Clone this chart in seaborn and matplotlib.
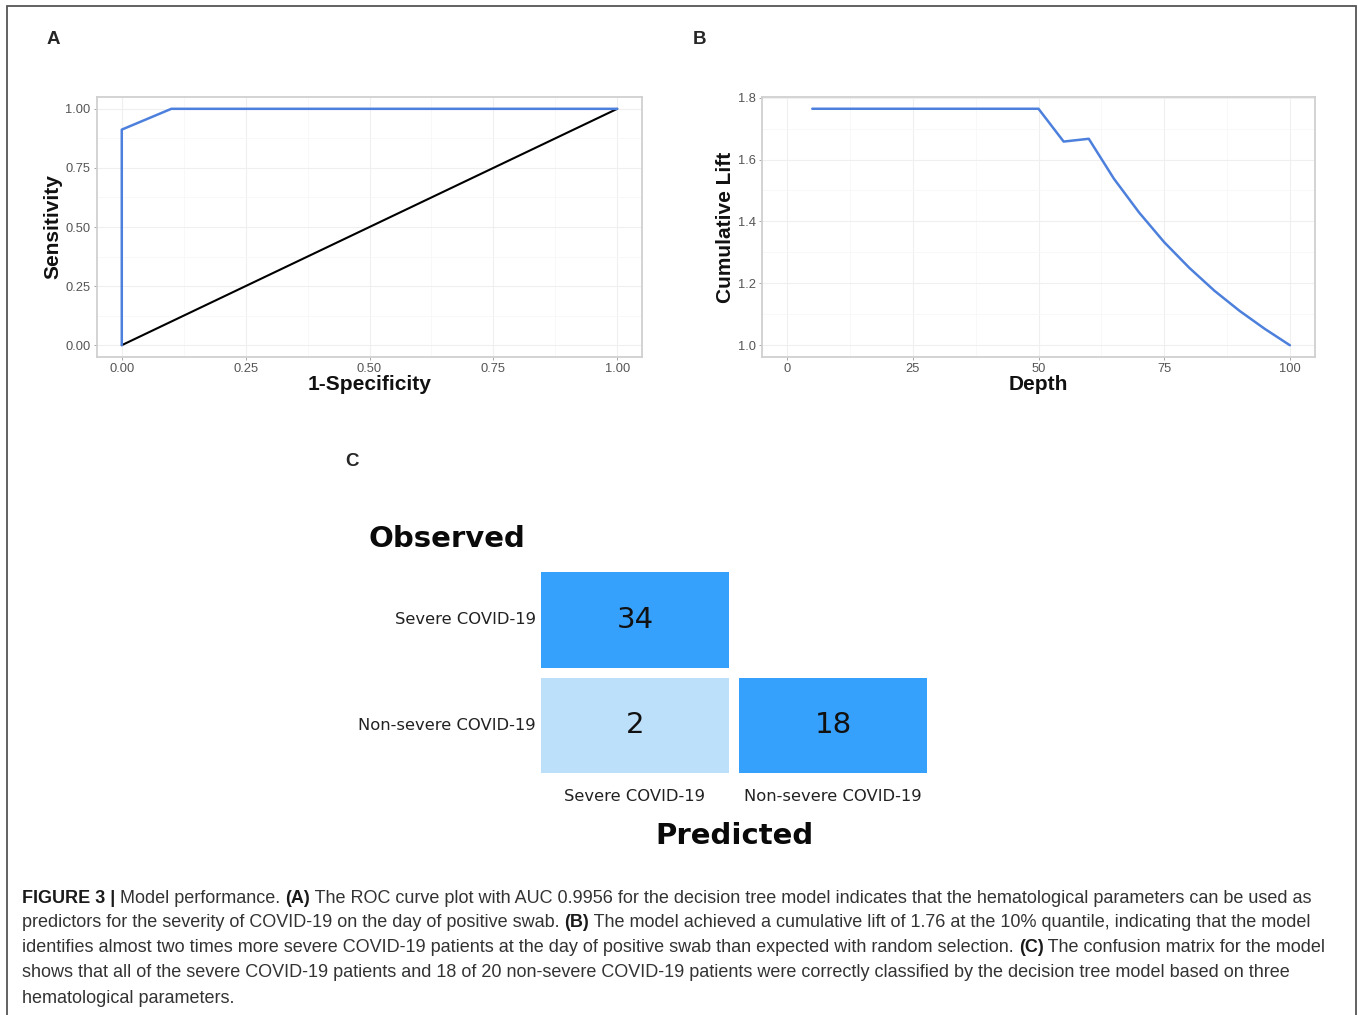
import numpy as np
import pandas as pd
import matplotlib
matplotlib.use("Agg")
import matplotlib.pyplot as plt
from matplotlib.colors import ListedColormap
from matplotlib.ticker import MultipleLocator
import seaborn as sns

sns.set_theme(style="white")
plt.rcParams["font.family"] = ["Liberation Sans", "DejaVu Sans"]

# --- data ---
roc_fpr = [0.0, 0.0, 0.1, 1.0]
roc_tpr = [0.0, 0.912, 1.0, 1.0]
diag_x = [0.0, 1.0]
diag_y = [0.0, 1.0]

lift_depth = [5, 10, 15, 20, 25, 30, 35, 40, 45, 50, 55, 60, 65, 70, 75, 80, 85, 90, 95, 100]
lift_value = [1.764, 1.764, 1.764, 1.764, 1.764, 1.764, 1.764, 1.764, 1.764, 1.764,
              1.658, 1.667, 1.538, 1.429, 1.333, 1.250, 1.176, 1.111, 1.053, 1.000]

cm_rows = ["Severe COVID-19", "Non-severe COVID-19"]
cm_cols = ["Severe COVID-19", "Non-severe COVID-19"]
cm_counts = [[34, np.nan], [2, 18]]

caption_lines = [
    [("FIGURE 3 |", True), (" Model performance. ", False), ("(A)", True),
     (" The ROC curve plot with AUC 0.9956 for the decision tree model indicates that the hematological parameters can be used as", False)],
    [("predictors for the severity of COVID-19 on the day of positive swab. ", False), ("(B)", True),
     (" The model achieved a cumulative lift of 1.76 at the 10% quantile, indicating that the model", False)],
    [("identifies almost two times more severe COVID-19 patients at the day of positive swab than expected with random selection. ", False),
     ("(C)", True), (" The confusion matrix for the model", False)],
    [("shows that all of the severe COVID-19 patients and 18 of 20 non-severe COVID-19 patients were correctly classified by the decision tree model based on three", False)],
    [("hematological parameters.", False)],
]

W, H = 1358, 1015
BLUE = "#4D80DC"


def fx(px):
    return px / W


def fy(py):
    return 1 - py / H


def style_panel(ax):
    ax.set_facecolor("white")
    for s in ax.spines.values():
        s.set_color("#D0D0D0")
        s.set_linewidth(1.3)
    ax.grid(True, which="major", color="#EFEFEF", lw=0.8)
    ax.grid(True, which="minor", color="#F7F7F7", lw=0.6)
    ax.tick_params(which="major", axis="both", length=2.5, width=0.6, color="#999999",
                   labelsize=9.3, labelcolor="#555555", pad=2, bottom=True, left=True)
    ax.tick_params(which="minor", length=0)
    ax.set_axisbelow(True)


fig = plt.figure(figsize=(W / 100, H / 100), dpi=100)

# --- Panel A: ROC ---
ax_a = fig.add_axes([fx(97), fy(357), fx(642) - fx(97), fy(97) - fy(357)])
roc_df = pd.DataFrame({"fpr": roc_fpr, "tpr": roc_tpr})
diag_df = pd.DataFrame({"x": diag_x, "y": diag_y})
sns.lineplot(data=diag_df, x="x", y="y", color="black", lw=1.5, estimator=None, sort=False, ax=ax_a)
sns.lineplot(data=roc_df, x="fpr", y="tpr", color=BLUE, lw=1.8, estimator=None, sort=False, ax=ax_a)
ax_a.set_xlim(-0.05, 1.05)
ax_a.set_ylim(-0.05, 1.05)
ax_a.set_xticks([0, 0.25, 0.5, 0.75, 1.0])
ax_a.set_xticklabels(["0.00", "0.25", "0.50", "0.75", "1.00"])
ax_a.set_yticks([0, 0.25, 0.5, 0.75, 1.0])
ax_a.set_yticklabels(["0.00", "0.25", "0.50", "0.75", "1.00"])
ax_a.xaxis.set_minor_locator(MultipleLocator(0.125))
ax_a.yaxis.set_minor_locator(MultipleLocator(0.125))
style_panel(ax_a)
ax_a.set_xlabel("1-Specificity", fontsize=15, fontweight="bold", color="#111111", labelpad=0)
ax_a.set_ylabel("Sensitivity", fontsize=15, fontweight="bold", color="#111111", labelpad=2)

# --- Panel B: cumulative lift ---
ax_b = fig.add_axes([fx(762), fy(357), fx(1315) - fx(762), fy(97) - fy(357)])
lift_df = pd.DataFrame({"Depth": lift_depth, "Lift": lift_value})
sns.lineplot(data=lift_df, x="Depth", y="Lift", color=BLUE, lw=1.8, ax=ax_b)
ax_b.set_xlim(-5, 105)
ax_b.set_ylim(0.962, 1.802)
ax_b.set_xticks([0, 25, 50, 75, 100])
ax_b.set_yticks([1.0, 1.2, 1.4, 1.6, 1.8])
ax_b.set_yticklabels(["1.0", "1.2", "1.4", "1.6", "1.8"])
ax_b.xaxis.set_minor_locator(MultipleLocator(12.5))
ax_b.yaxis.set_minor_locator(MultipleLocator(0.1))
style_panel(ax_b)
ax_b.set_xlabel("Depth", fontsize=15, fontweight="bold", color="#111111", labelpad=0)
ax_b.set_ylabel("Cumulative Lift", fontsize=15, fontweight="bold", color="#111111", labelpad=2)

# --- Panel C: confusion matrix ---
ax_c = fig.add_axes([fx(536), fy(778), fx(932) - fx(536), fy(567) - fy(778)])
cm_df = pd.DataFrame(cm_counts, index=cm_rows, columns=cm_cols)
cmap = ListedColormap(["#BDE0FA", "#36A1FC"])
sns.heatmap(cm_df, mask=cm_df.isna(), annot=True, fmt=".0f", cmap=cmap, vmin=0, vmax=20,
            cbar=False, linewidths=5.8, linecolor="white", ax=ax_c,
            annot_kws={"fontsize": 21, "color": "#111111", "family": "DejaVu Sans"})
ax_c.set_xlabel("")
ax_c.set_ylabel("")
ax_c.tick_params(axis="both", length=0, labelsize=11.8, labelcolor="#222222")
ax_c.tick_params(axis="x", pad=8)
ax_c.tick_params(axis="y", pad=0)
for lab in ax_c.get_xticklabels() + ax_c.get_yticklabels():
    lab.set_family("DejaVu Sans")
plt.setp(ax_c.get_yticklabels(), rotation=0)
plt.setp(ax_c.get_xticklabels(), rotation=0)
for s in ax_c.spines.values():
    s.set_visible(False)

fig.text(fx(368), fy(539), "Observed", fontsize=21, fontweight="bold", family="DejaVu Sans",
         ha="left", va="center", color="#0A0A0A")
fig.text(fx(734), fy(836), "Predicted", fontsize=21, fontweight="bold", family="DejaVu Sans",
         ha="center", va="center", color="#0A0A0A")

# --- panel letters ---
for letter, px, py in [("A", 53, 40), ("B", 700, 40), ("C", 352, 461)]:
    fig.text(fx(px), fy(py), letter, fontsize=13.5, fontweight="bold", ha="center", va="center")

# --- caption, bold and normal pieces chained one after the other ---
line_y = [898, 922, 947, 972, 998]
for parts, py in zip(caption_lines, line_y):
    prev = None
    for txt, bold in parts:
        kw = dict(fontsize=13, fontweight="bold" if bold else "normal",
                  color="#1A1A1A" if bold else "#333333", va="bottom", ha="left")
        if prev is None:
            prev = fig.text(fx(22), fy(py + 9), txt, **kw)
        else:
            prev = plt.annotate(txt, xy=(1, 0), xycoords=prev, **kw)

# --- outer frame ---
fig.add_artist(plt.Rectangle((fx(7), -0.02), fx(1356) - fx(7), fy(6) + 0.02,
                             transform=fig.transFigure, fill=False,
                             edgecolor="#555555", lw=1.3))

fig.savefig("out.png", dpi=100, facecolor="white")
